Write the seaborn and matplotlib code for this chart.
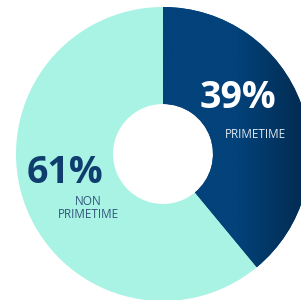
import numpy as np
import matplotlib
matplotlib.use("Agg")
import matplotlib.pyplot as plt
import seaborn as sns
from matplotlib.colors import LinearSegmentedColormap

categories = ["PRIMETIME", "NON\nPRIMETIME"]
shares = [39, 61]
pct_labels = ["39%", "61%"]

sns.set_theme(style="white")
plt.rcParams['font.family'] = ['Open Sans', 'DejaVu Sans']

light = "#a8f3e4"
dark_left = "#03427a"
dark_right = "#022a4e"

fig = plt.figure(figsize=(3.01, 3.0), dpi=100)
ax = fig.add_axes([0, 0, 1, 1])

# donut, starting at 12 o'clock going clockwise
wedges, _ = ax.pie(shares, colors=[dark_left, light], startangle=90, counterclock=False,
                   radius=1.0, wedgeprops=dict(width=1 - 0.34, linewidth=0))

# horizontal gradient on the primetime slice
cmap = LinearSegmentedColormap.from_list("navy", [dark_left, dark_left, dark_right])
grad = np.linspace(0, 1, 256).reshape(1, -1)
im = ax.imshow(grad, cmap=cmap, extent=[0, 1.0, -1.0, 1.0], aspect="auto", zorder=2)
im.set_clip_path(wedges[0])

ax.set_xlim(-163 / 147, (301 - 163) / 147)
ax.set_ylim(-(300 - 154) / 147, 154 / 147)
ax.set_aspect("equal")
ax.axis("off")

# labels
ax.text(0.51, 0.38, pct_labels[0], color="white", fontsize=27, fontweight="bold",
        ha="center", va="center", zorder=3)
ax.text(0.63, 0.135, categories[0], color="#dfe8f0", fontsize=8.5,
        ha="center", va="center", zorder=3)
ax.text(-0.667, -0.13, pct_labels[1], color="#0f3d6e", fontsize=27, fontweight="bold",
        ha="center", va="center", zorder=3)
ax.text(-0.51, -0.37, categories[1], color="#34557c", fontsize=8.5, linespacing=1.0,
        ha="center", va="center", zorder=3)

fig.savefig("out.png", dpi=100)
